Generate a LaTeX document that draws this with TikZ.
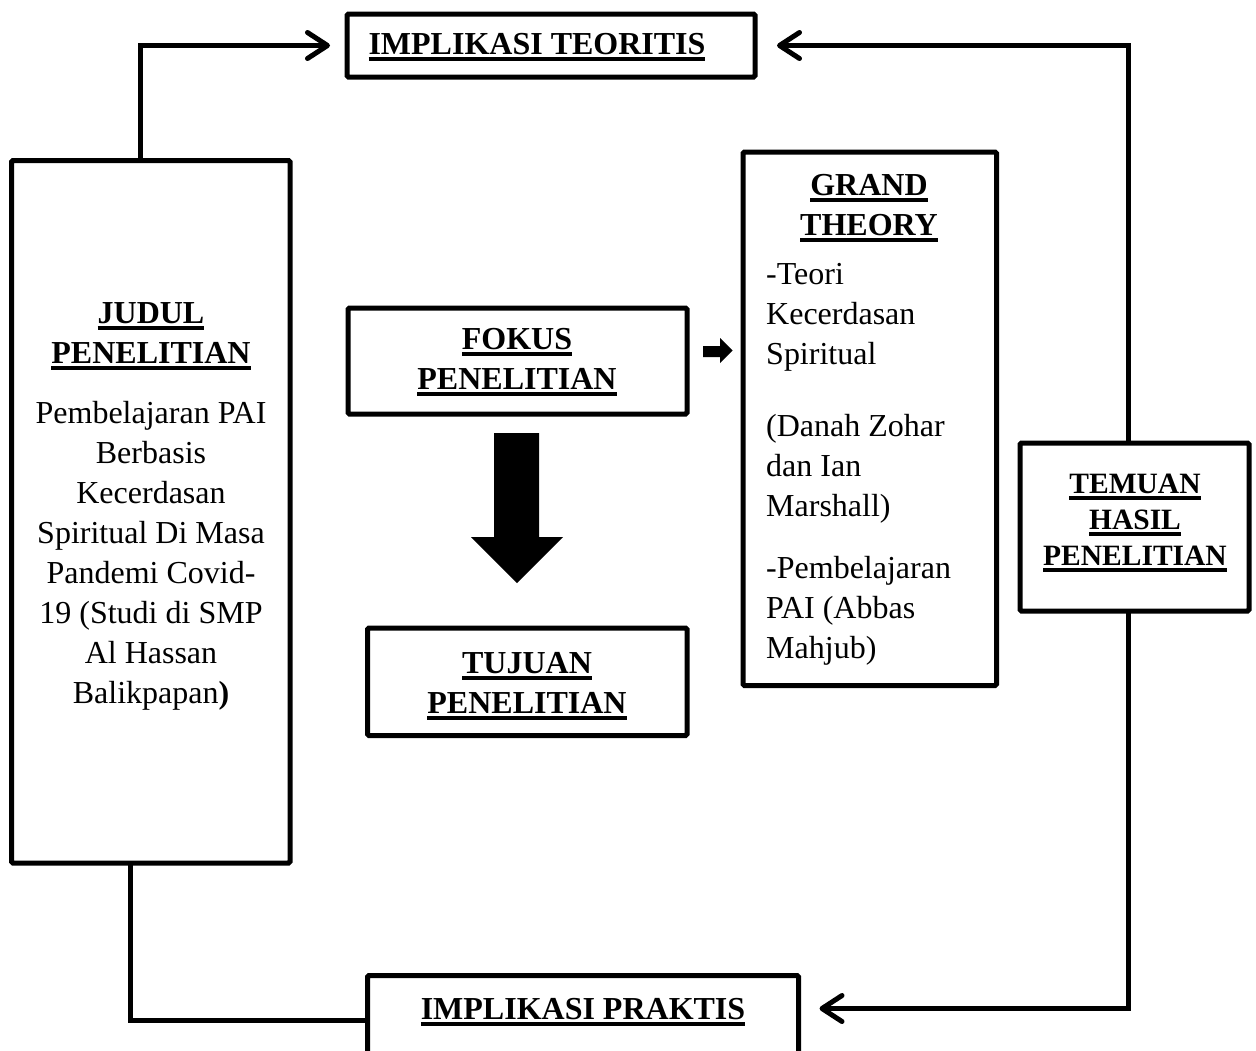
\documentclass[tikz,border=0pt]{standalone}
\usepackage{fontspec}
\setmainfont{Liberation Serif}
\usetikzlibrary{arrows.meta,calc}
\newcommand\myul[1]{\setbox0\hbox{#1}\rlap{\rule[-6.5pt]{\wd0}{3.2pt}}\box0}
\newcommand\cblock[1]{\vtop{\halign{\hfil##\hfil\cr#1\crcr}}}
\newcommand\lblock[1]{\vtop{\halign{##\hfil\cr#1\crcr}}}
\begin{document}
\begin{tikzpicture}[x=1pt,y=-1pt,
  box/.style={draw,line width=5pt,rounded corners=1.5pt,outer sep=0pt,inner sep=0pt,anchor=north west},
  txt/.style={inner sep=0pt,anchor=base,font=\fontsize{32}{40}\selectfont},
  hd/.style={txt,font=\fontsize{32}{40}\selectfont\bfseries},
  conn/.style={line width=5pt},
  arr/.style={-{Straight Barb[length=20pt,width=26pt,round]}}]
\useasboundingbox (0,0) rectangle (1256,1050);
\clip (0,0) rectangle (1256,1050);
% boxes
\node[box,minimum width=408pt,minimum height=63pt] (implT) at (347,14) {};
\node[box,minimum width=278.5pt,minimum height=702.5pt] (judul) at (11.5,160.5) {};
\node[box,minimum width=339pt,minimum height=106pt] (fokus) at (348,308) {};
\node[box,minimum width=319.5pt,minimum height=107.5pt] (tujuan) at (367.5,628) {};
\node[box,minimum width=253.5pt,minimum height=533.5pt] (grand) at (743,152) {};
\node[box,minimum width=229pt,minimum height=168pt] (temuan) at (1020,443) {};
\node[box,minimum width=431pt,minimum height=90pt] (implP) at (367.5,975.5) {};
% texts
\node[hd] (tImplT) at (537,54) {\myul{IMPLIKASI TEORITIS}};
\node[hd] (tJudul) at (151,323) {\cblock{\myul{JUDUL}\cr\myul{PENELITIAN}}};
\node[txt] (tJudulBody) at (151,423) {\cblock{Pembelajaran PAI\cr Berbasis\cr Kecerdasan\cr Spiritual Di Masa\cr Pandemi Covid-\cr 19 (Studi di SMP\cr Al Hassan\cr Balikpapan\textbf{)}}};
\node[hd] (tFokus) at (517,349) {\cblock{\myul{FOKUS}\cr\myul{PENELITIAN}}};
\node[hd] (tTujuan) at (527,673) {\cblock{\myul{TUJUAN}\cr\myul{PENELITIAN}}};
\node[hd] (tGrand) at (869,195) {\cblock{\myul{GRAND}\cr\myul{THEORY}}};
\node[txt,anchor=base west] (tGrandBody) at (766,284) {\lblock{-Teori\cr Kecerdasan\cr Spiritual\cr\noalign{\vskip32pt}(Danah Zohar\cr dan Ian\cr Marshall)\cr\noalign{\vskip22pt}-Pembelajaran\cr PAI (Abbas\cr Mahjub)}};
\node[hd,font=\fontsize{29.5}{36}\selectfont\bfseries] (tTemuan) at (1135,493) {\cblock{\myul{TEMUAN}\cr\myul{HASIL}\cr\myul{PENELITIAN}}};
\node[hd] (tImplP) at (583,1019) {\myul{IMPLIKASI PRAKTIS}};
% connectors
\draw[conn,arr] ($(judul.north west)+(128.5,0)$) |- ([xshift=-17pt]implT.west);
\draw[conn,arr] ($(temuan.north west)+(108,0)$) |- ([xshift=22pt]implT.east);
\draw[conn,arr] ($(temuan.south west)+(108,0)$) |- ([xshift=21pt,yshift=12pt]implP.east);
\draw[conn] ($(judul.south west)+(118.5,0)$) |- (implP.west);
% block arrows
\fill (494,433) -- (539,433) -- (539,537) -- (563,537) -- (517,583) -- (471,537) -- (494,537) -- cycle;
\fill (703,346) -- (720,346) -- (720,338) -- (732.5,350.5) -- (720,363) -- (720,357) -- (703,357) -- cycle;
\end{tikzpicture}
\end{document}
